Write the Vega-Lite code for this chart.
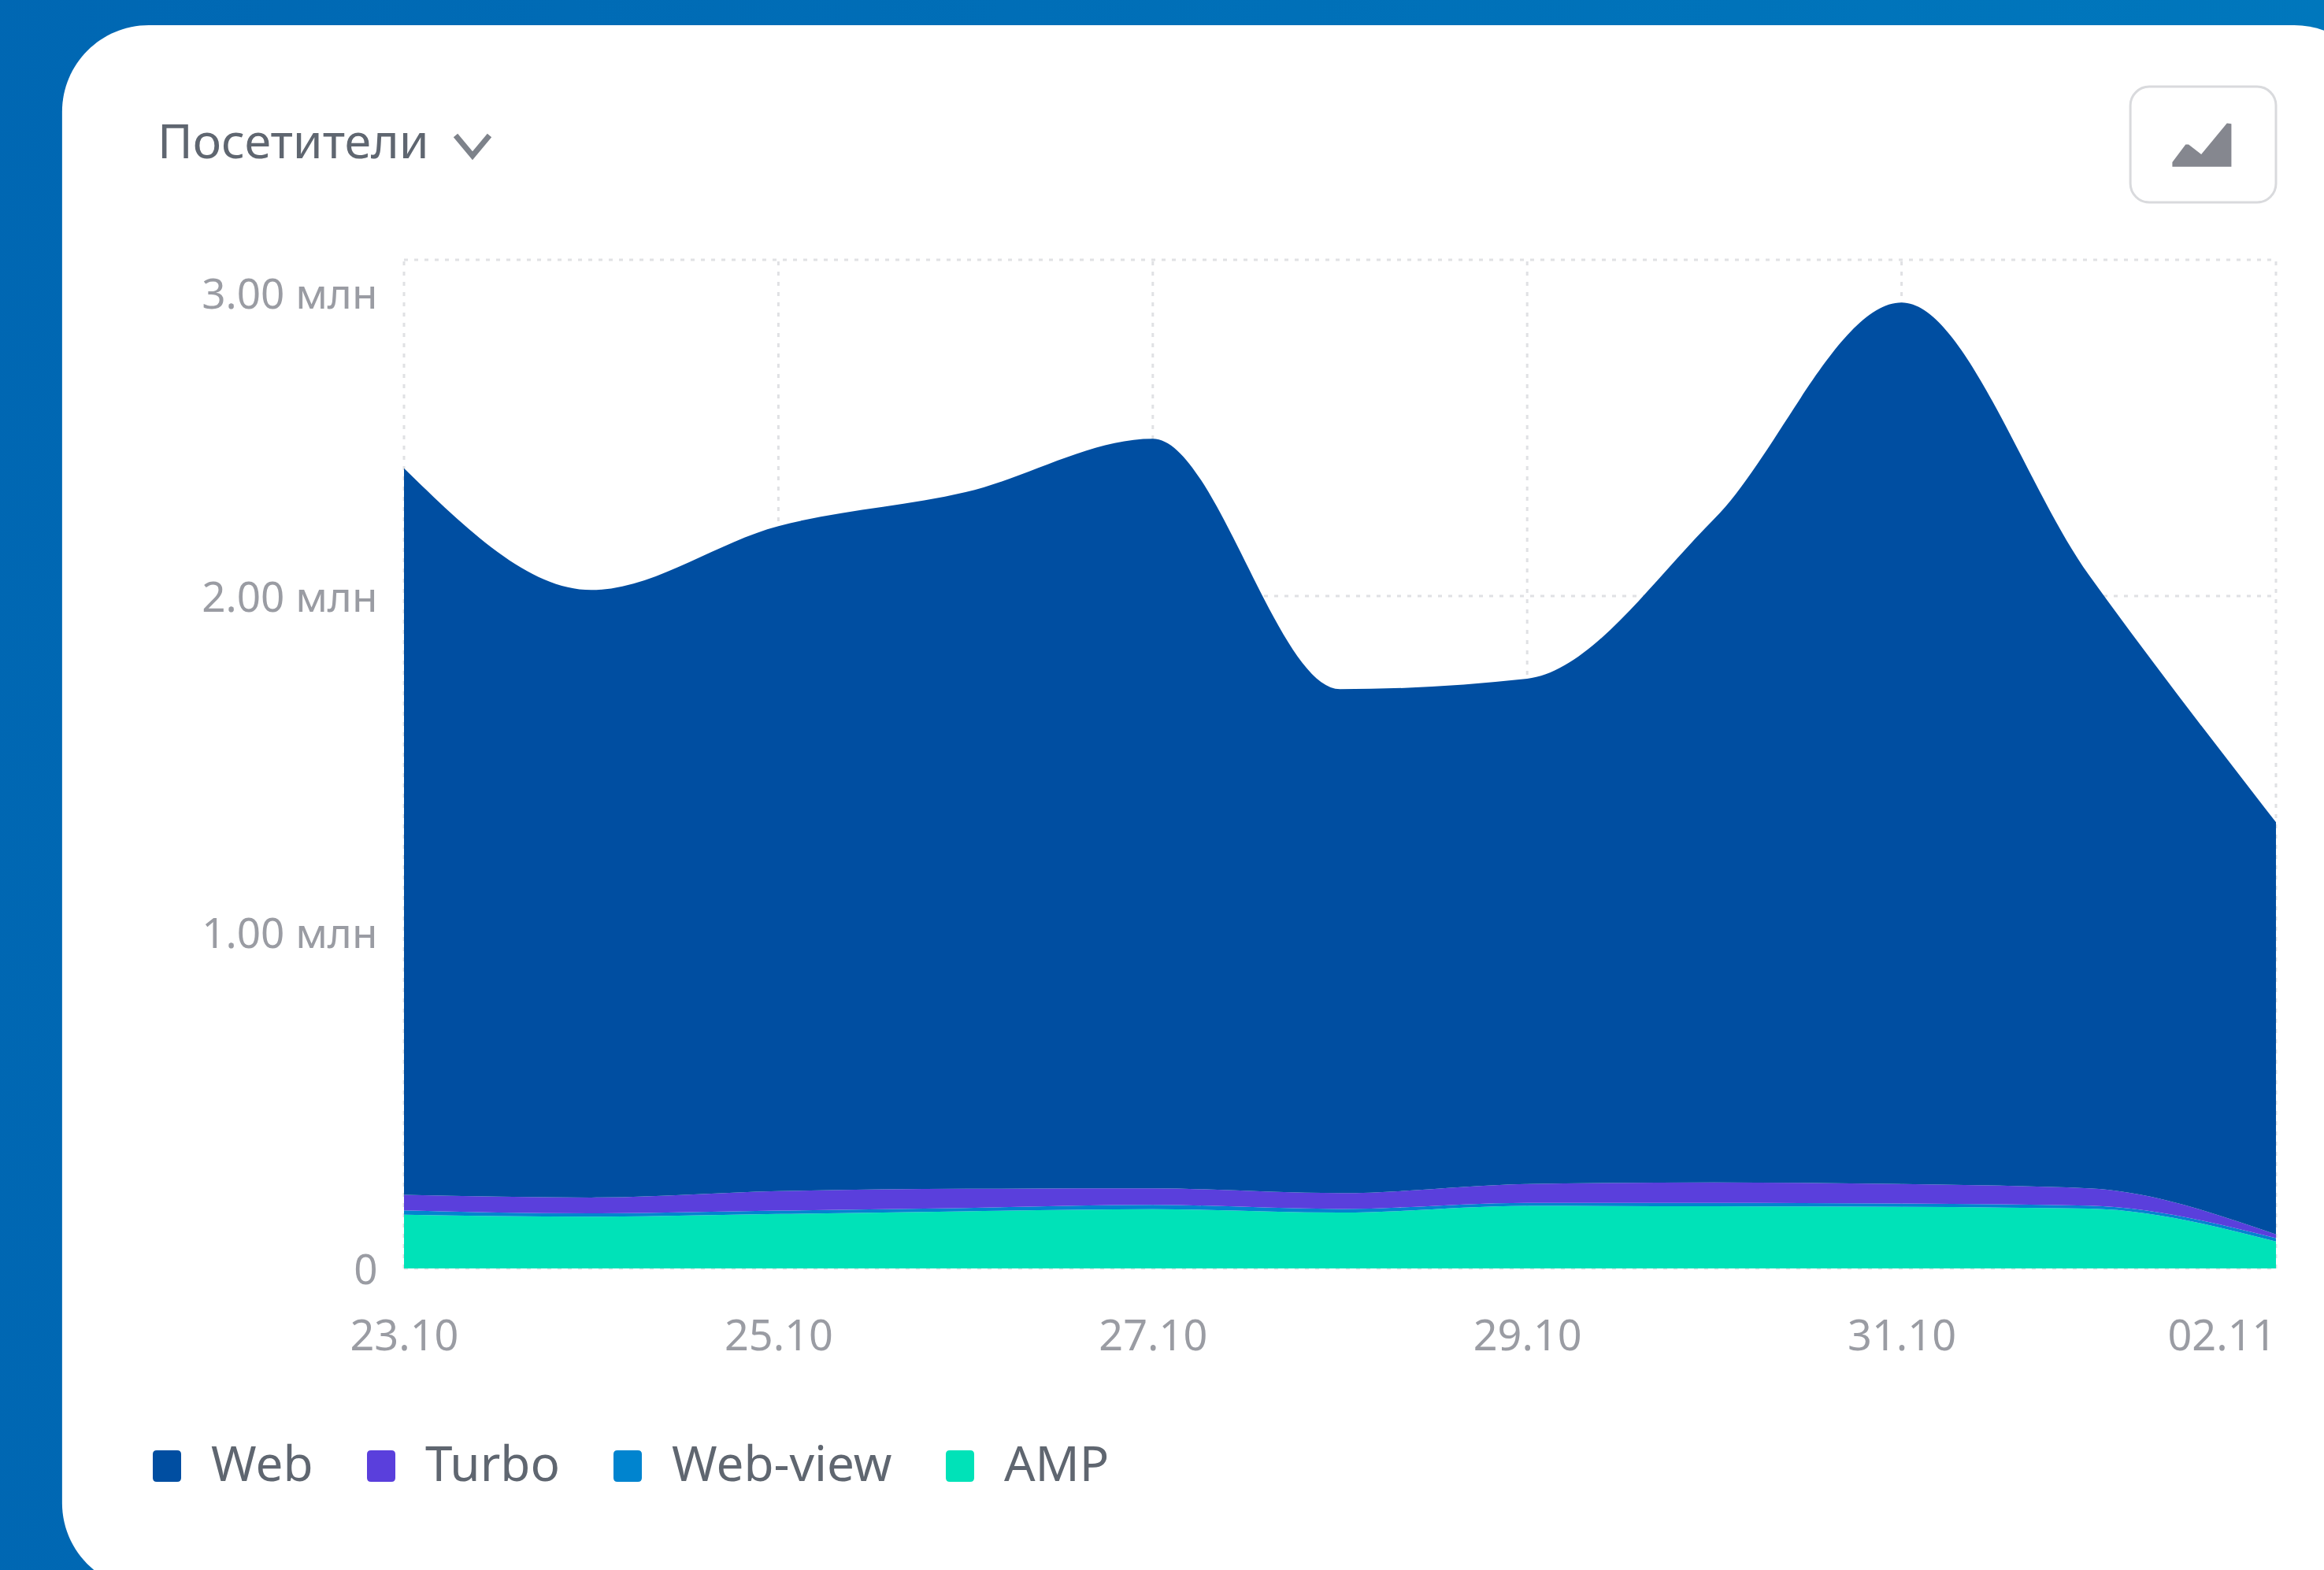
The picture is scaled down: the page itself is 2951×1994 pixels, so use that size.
{
"$schema":"https://vega.github.io/schema/vega-lite/v6.json",
"width":2377,"height":1281,
"autosize":{"type":"none"},
"padding":{"left":513,"top":330,"right":61,"bottom":383},
"background":"#006cb4",
"title":{"text":"Посетители","anchor":"start","frame":"group","orient":"top","dx":-313,"offset":-274,"baseline":"alphabetic","font":"Noto Sans","fontSize":61,"fontWeight":"normal","color":"#5f6670"},
"datasets":{
"series":[
{"date":"2021-10-23T00:00:00Z","source":"AMP","rank":1,"visitors":160000},
{"date":"2021-10-24T00:00:00Z","source":"AMP","rank":1,"visitors":154000},
{"date":"2021-10-25T00:00:00Z","source":"AMP","rank":1,"visitors":162000},
{"date":"2021-10-26T00:00:00Z","source":"AMP","rank":1,"visitors":170000},
{"date":"2021-10-27T00:00:00Z","source":"AMP","rank":1,"visitors":176000},
{"date":"2021-10-28T00:00:00Z","source":"AMP","rank":1,"visitors":166000},
{"date":"2021-10-29T00:00:00Z","source":"AMP","rank":1,"visitors":186000},
{"date":"2021-10-30T00:00:00Z","source":"AMP","rank":1,"visitors":185000},
{"date":"2021-10-31T00:00:00Z","source":"AMP","rank":1,"visitors":183000},
{"date":"2021-11-01T00:00:00Z","source":"AMP","rank":1,"visitors":178000},
{"date":"2021-11-02T00:00:00Z","source":"AMP","rank":1,"visitors":80000},
{"date":"2021-10-23T00:00:00Z","source":"Web-view","rank":2,"visitors":13000},
{"date":"2021-10-24T00:00:00Z","source":"Web-view","rank":2,"visitors":10000},
{"date":"2021-10-25T00:00:00Z","source":"Web-view","rank":2,"visitors":10000},
{"date":"2021-10-26T00:00:00Z","source":"Web-view","rank":2,"visitors":10000},
{"date":"2021-10-27T00:00:00Z","source":"Web-view","rank":2,"visitors":13000},
{"date":"2021-10-28T00:00:00Z","source":"Web-view","rank":2,"visitors":11000},
{"date":"2021-10-29T00:00:00Z","source":"Web-view","rank":2,"visitors":9000},
{"date":"2021-10-30T00:00:00Z","source":"Web-view","rank":2,"visitors":10000},
{"date":"2021-10-31T00:00:00Z","source":"Web-view","rank":2,"visitors":10000},
{"date":"2021-11-01T00:00:00Z","source":"Web-view","rank":2,"visitors":9000},
{"date":"2021-11-02T00:00:00Z","source":"Web-view","rank":2,"visitors":10000},
{"date":"2021-10-23T00:00:00Z","source":"Turbo","rank":3,"visitors":46000},
{"date":"2021-10-24T00:00:00Z","source":"Turbo","rank":3,"visitors":47000},
{"date":"2021-10-25T00:00:00Z","source":"Turbo","rank":3,"visitors":58000},
{"date":"2021-10-26T00:00:00Z","source":"Turbo","rank":3,"visitors":57000},
{"date":"2021-10-27T00:00:00Z","source":"Turbo","rank":3,"visitors":49000},
{"date":"2021-10-28T00:00:00Z","source":"Turbo","rank":3,"visitors":47000},
{"date":"2021-10-29T00:00:00Z","source":"Turbo","rank":3,"visitors":56000},
{"date":"2021-10-30T00:00:00Z","source":"Turbo","rank":3,"visitors":61000},
{"date":"2021-10-31T00:00:00Z","source":"Turbo","rank":3,"visitors":58000},
{"date":"2021-11-01T00:00:00Z","source":"Turbo","rank":3,"visitors":51000},
{"date":"2021-11-02T00:00:00Z","source":"Turbo","rank":3,"visitors":11000},
{"date":"2021-10-23T00:00:00Z","source":"Web","rank":4,"visitors":2161000},
{"date":"2021-10-24T00:00:00Z","source":"Web","rank":4,"visitors":1807000},
{"date":"2021-10-25T00:00:00Z","source":"Web","rank":4,"visitors":1978000},
{"date":"2021-10-26T00:00:00Z","source":"Web","rank":4,"visitors":2072000},
{"date":"2021-10-27T00:00:00Z","source":"Web","rank":4,"visitors":2230000},
{"date":"2021-10-28T00:00:00Z","source":"Web","rank":4,"visitors":1499000},
{"date":"2021-10-29T00:00:00Z","source":"Web","rank":4,"visitors":1503000},
{"date":"2021-10-30T00:00:00Z","source":"Web","rank":4,"visitors":1974000},
{"date":"2021-10-31T00:00:00Z","source":"Web","rank":4,"visitors":2622000},
{"date":"2021-11-01T00:00:00Z","source":"Web","rank":4,"visitors":1825000},
{"date":"2021-11-02T00:00:00Z","source":"Web","rank":4,"visitors":1226000}
]
},
"encoding":{
"x":{"field":"date","type":"temporal","title":null,
"scale":{"type":"utc","domain":[{"year":2021,"month":10,"date":23,"utc":true},{"year":2021,"month":11,"date":2,"utc":true}],"nice":false},
"axis":{"values":[{"year":2021,"month":10,"date":23,"utc":true},{"year":2021,"month":10,"date":25,"utc":true},{"year":2021,"month":10,"date":27,"utc":true},{"year":2021,"month":10,"date":29,"utc":true},{"year":2021,"month":10,"date":31,"utc":true},{"year":2021,"month":11,"date":2,"utc":true}],
"labelExpr":"utcFormat(datum.value,'%d.%m')","grid":false,"domain":false,"ticks":false,"zindex":1,"labelFont":"Noto Sans","labelFontSize":54,"labelColor":"#9a9ca3","labelPadding":87,"labelBaseline":"middle","labelOverlap":false,"labelFlush":false,"labelBound":false,
"labelAlign":{"condition":{"test":"datum.index==1","value":"right"},"value":"center"}}},
"y":{"field":"value","type":"quantitative","title":null,
"scale":{"domain":[0,3000000],"nice":false,"zero":false},
"axis":{"values":[0,1000000,2000000,3000000],
"labelExpr":"datum.value==0?'0':format(datum.value/1000000,'.2f')+' млн'","grid":false,"domain":false,"ticks":false,"zindex":1,"labelFont":"Noto Sans","labelFontSize":53,"labelColor":"#9a9ca3","labelPadding":34,"labelBound":false,"labelOverlap":false,"labelLimit":500,
"labelOffset":{"condition":{"test":"datum.value>=3000000","value":45},"value":3}}}
},
"layer":[
{"data":{"values":[{"date":"2021-10-20T00:00:00Z","date2":"2021-11-03T00:00:00Z","value":3800000,"value2":-950000}]},
 "mark":{"type":"rect","fill":{"gradient":"linear","x1":0,"y1":0,"x2":1,"y2":0,"stops":[{"offset":0,"color":"#0066b2"},{"offset":1,"color":"#0078bd"}]}},
 "encoding":{"x2":{"field":"date2"},"y2":{"field":"value2"}}},
{"data":{"values":[{"date":"2021-10-21T04:10:00Z","date2":"2021-11-02T13:26:00Z","value":3698000,"value2":-955000}]},
 "mark":{"type":"rect","fill":"#ffffff","cornerRadius":110},
 "encoding":{"x2":{"field":"date2"},"y2":{"field":"value2"}}},
{"data":{"values":[{"date":"2021-11-02T00:00:00Z","date2":"2021-11-01T05:20:00Z","value":3515000,"value2":3171000}]},
 "mark":{"type":"rect","fill":"#ffffff","stroke":"#d9dadd","strokeWidth":3,"cornerRadius":24},
 "encoding":{"x2":{"field":"date2"},"y2":{"field":"value2"}}},
{"data":{"values":[{"date":"2021-10-23T00:00:00Z","value":0,"value2":3000000},{"date":"2021-10-25T00:00:00Z","value":0,"value2":3000000},{"date":"2021-10-27T00:00:00Z","value":0,"value2":3000000},{"date":"2021-10-29T00:00:00Z","value":0,"value2":3000000},{"date":"2021-10-31T00:00:00Z","value":0,"value2":3000000},{"date":"2021-11-02T00:00:00Z","value":0,"value2":3000000}]},
 "mark":{"type":"rule","stroke":"#e0e1e4","strokeWidth":3,"strokeDash":[5,8]},
 "encoding":{"y2":{"field":"value2"}}},
{"data":{"values":[{"date":"2021-10-23T00:00:00Z","date2":"2021-11-02T00:00:00Z","value":0},{"date":"2021-10-23T00:00:00Z","date2":"2021-11-02T00:00:00Z","value":1000000},{"date":"2021-10-23T00:00:00Z","date2":"2021-11-02T00:00:00Z","value":2000000},{"date":"2021-10-23T00:00:00Z","date2":"2021-11-02T00:00:00Z","value":3000000}]},
 "mark":{"type":"rule","stroke":"#e0e1e4","strokeWidth":3,"strokeDash":[5,8]},
 "encoding":{"x2":{"field":"date2"}}},
{"data":{"name":"series"},
 "mark":{"type":"area","interpolate":"monotone","opacity":1},
 "encoding":{
  "y":{"field":"visitors","type":"quantitative","stack":"zero"},
  "order":{"field":"rank","type":"quantitative"},
  "color":{"field":"source","type":"nominal","scale":{"domain":["Web","Turbo","Web-view","AMP"],"range":["#004ea1","#5a3fdc","#0084cf","#00e2b8"]},
   "legend":{"title":null,"orient":"none","direction":"horizontal","columns":4,"legendX":-332,"legendY":1501,"symbolType":"M-0.65,-1 L0.65,-1 Q0.9,-1 0.9,-0.75 L0.9,0.75 Q0.9,1 0.65,1 L-0.65,1 Q-0.9,1 -0.9,0.75 L-0.9,-0.75 Q-0.9,-1 -0.65,-1 Z","symbolSize":1600,"symbolStrokeWidth":0,"symbolOpacity":1,"labelFont":"Noto Sans","labelFontSize":62,"labelColor":"#5f6670","labelOffset":25,"labelLimit":500,"columnPadding":55,"zindex":1}}
 }},
{"data":{"values":[{"date":"2021-10-23T08:47:00Z","value":3340000}]},
 "mark":{"type":"point","shape":"M-1,-0.6 L0,0.6 L1,-0.6","filled":false,"stroke":"#7d828a","strokeWidth":7,"size":1849,"opacity":1}},
{"data":{"values":[{"date":"2021-11-01T14:30:00Z","value":3343000}]},
 "mark":{"type":"point","shape":"M-1,0.75 L-1,0.6 L-0.55,0 L-0.45,0 L-0.02,0.33 L0.85,-0.72 L1,-0.7 L1,0.75 Z","filled":true,"fill":"#85878f","strokeWidth":0,"size":5625,"opacity":1}}
]
}
